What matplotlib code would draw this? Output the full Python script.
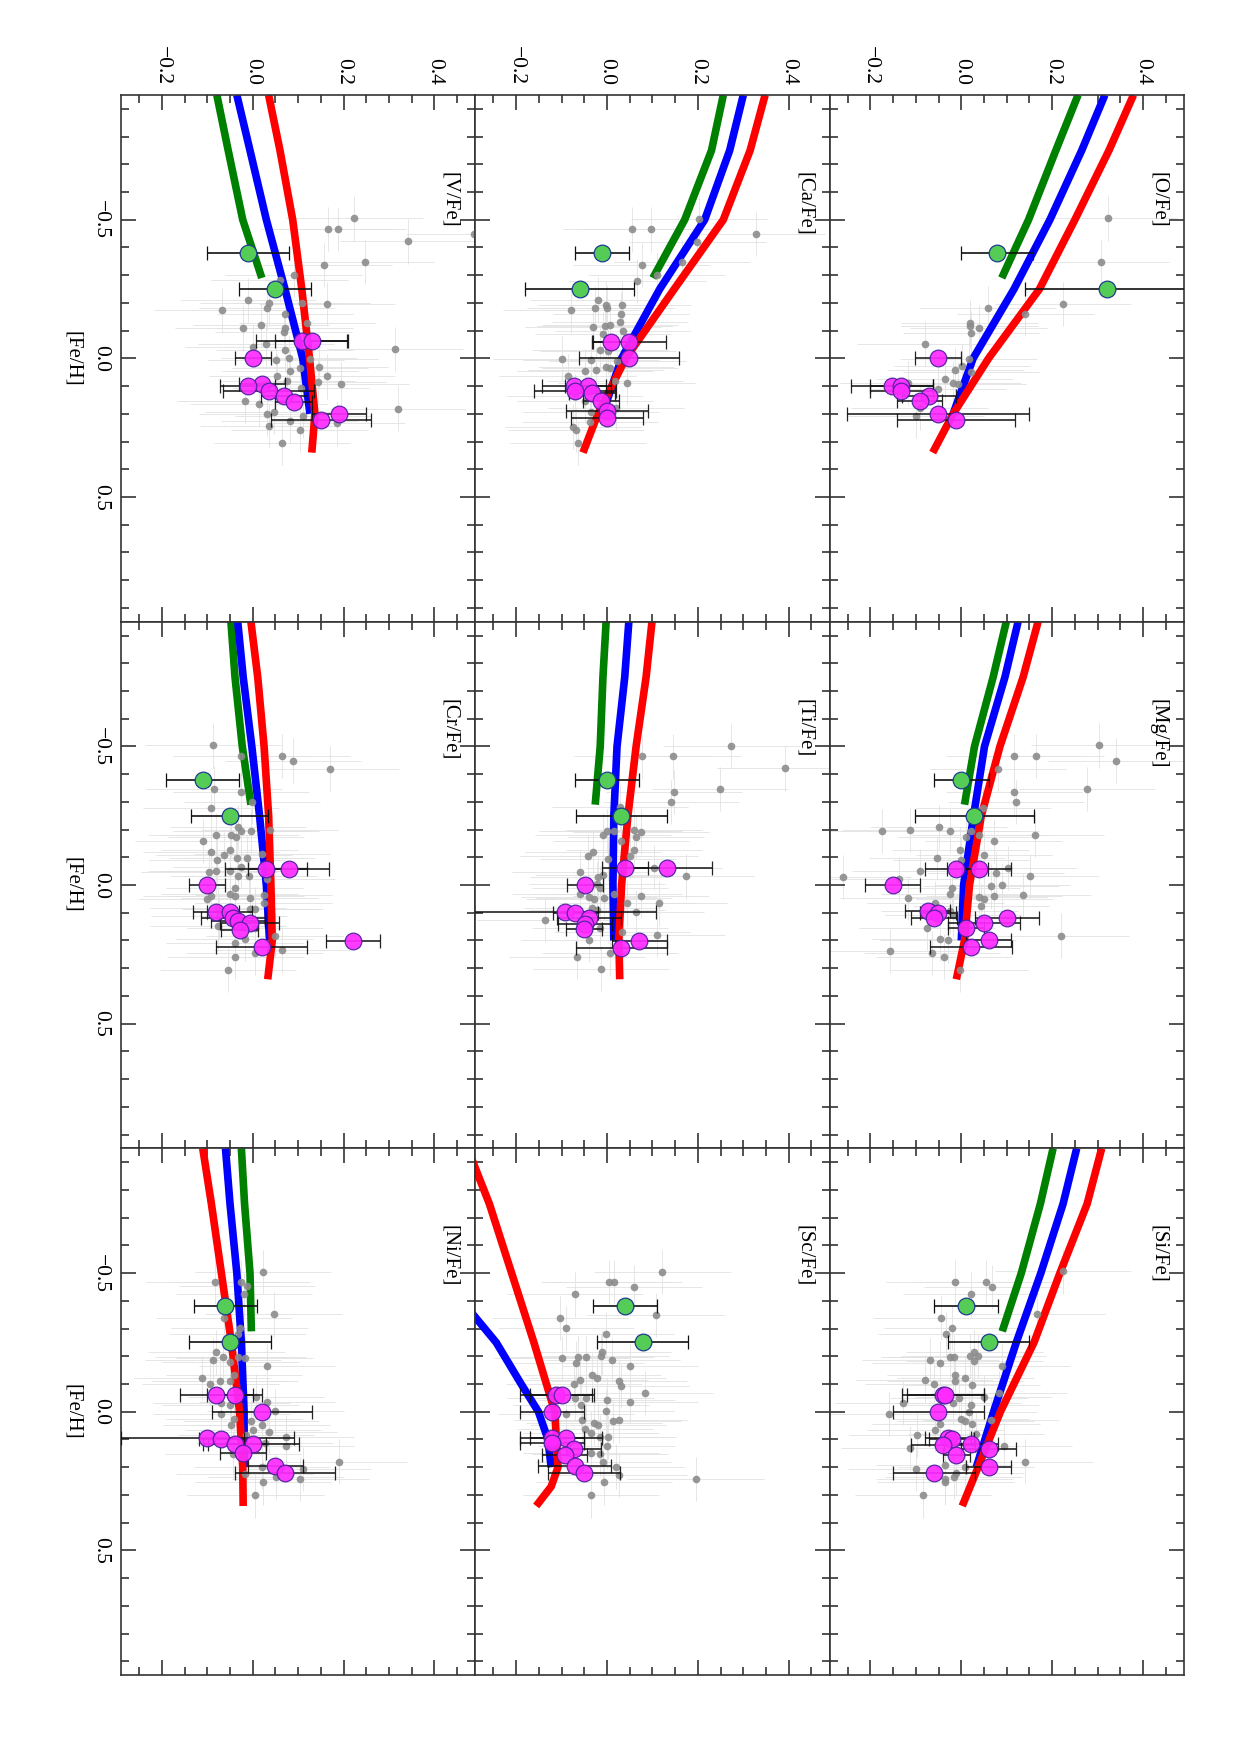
import matplotlib
matplotlib.use('Agg')
import matplotlib.pyplot as plt
from matplotlib.ticker import MultipleLocator, FuncFormatter

plt.rcParams['font.family'] = ['Liberation Serif', 'DejaVu Serif']

# ---- model curve knots ([Fe/H] positions shared by the panels) ----
G_FEH = [-0.95, -0.75, -0.5, -0.29]
B_FEH = [-0.95, -0.75, -0.5, -0.25, 0.0, 0.2]
R_FEH = [-0.95, -0.75, -0.5, -0.25, 0.0, 0.2, 0.34]
CL_FEH = [-0.38, -0.25]          # the two green (cluster) points

GRAY_XERR = 0.15
GRAY_FERR = 0.08

# ---------------- [O/Fe] ----------------
o_green = [0.257, 0.208, 0.148, 0.089]
o_blue = [0.316, 0.265, 0.195, 0.116, 0.026, -0.018]
o_red = [0.379, 0.325, 0.25, 0.172, 0.06, -0.018, -0.063]
o_gray_val = [0.324, 0.307, 0.224, 0.141, 0.059, 0.018, 0.018, 0.038, 0.021, -0.080, 0.016,
              0.002, -0.013, 0.021, -0.007, -0.018, -0.036, -0.051, -0.118, -0.100, -0.092]
o_gray_feh = [-0.505, -0.348, -0.195, -0.161, -0.182, -0.129, -0.117, -0.111, -0.092, -0.053, 0.001,
              0.028, 0.041, 0.049, 0.094, 0.088, 0.073, 0.110, 0.088, 0.208, 0.178]
o_star_feh = [0.0, 0.10, 0.098, 0.118, 0.136, 0.154, 0.199, 0.223]
o_star_val = [-0.051, -0.152, -0.132, -0.132, -0.071, -0.092, -0.051, -0.011]
o_star_err = [0.05, 0.09, 0.07, 0.07, 0.06, 0.05, 0.20, 0.13]
o_cl_val = [0.079, 0.32]
o_cl_err = [0.079, 0.18]

# ---------------- [Mg/Fe] ----------------
mg_green = [0.099, 0.07, 0.029, 0.007]
mg_blue = [0.125, 0.096, 0.051, 0.027, 0.005, 0.0]
mg_red = [0.169, 0.136, 0.085, 0.044, 0.018, 0.007, -0.011]
mg_gray_val = [0.304, 0.116, 0.165, 0.34, 0.081, 0.277, 0.116, 0.12, 0.048, -0.175, -0.113, -0.05,
               -0.024, 0.011, 0.022, 0.04, 0.163, 0.071, -0.002, 0.05, -0.053, 0.0, 0.103, 0.076,
               -0.09, -0.261, -0.138, 0.152, -0.02, -0.026, 0.066, 0.09, -0.118, 0.04, 0.051, 0.072,
               0.136, 0.044, -0.057, -0.026, -0.018, -0.076, -0.046, -0.029, 0.219, -0.157, -0.065,
               -0.038, -0.004]
mg_gray_feh = [-0.504, -0.465, -0.465, -0.449, -0.42, -0.347, -0.335, -0.3, -0.278, -0.194, -0.198,
               -0.21, -0.196, -0.172, -0.194, -0.18, -0.182, -0.16, -0.128, -0.11, -0.098, -0.089,
               -0.061, -0.043, -0.049, -0.029, -0.022, -0.031, 0.011, 0.031, 0.005, 0.001, 0.047,
               0.043, 0.049, 0.039, 0.035, 0.077, 0.065, 0.092, 0.107, 0.155, 0.195, 0.2, 0.182,
               0.237, 0.246, 0.258, 0.306]
mg_star_feh = [-0.058, -0.058, 0.0, 0.095, 0.10, 0.119, 0.119, 0.137, 0.155, 0.20, 0.224]
mg_star_val = [-0.011, 0.039, -0.151, -0.074, -0.051, -0.06, 0.10, 0.05, 0.01, 0.06, 0.021]
mg_star_err = [0.07, 0.07, 0.06, 0.05, 0.04, 0.05, 0.07, 0.08, 0.04, 0.05, 0.09]
mg_cl_val = [0.0, 0.029]
mg_cl_err = [0.06, 0.13]

# ---------------- [Si/Fe] ----------------
si_green = [0.202, 0.174, 0.132, 0.09]
si_blue = [0.254, 0.224, 0.175, 0.121, 0.071, 0.033]
si_red = [0.309, 0.277, 0.217, 0.16, 0.086, 0.037, 0.002]
si_gray_val = [0.224, -0.015, 0.055, 0.068, 0.021, 0.167, -0.044, -0.02, -0.033, 0.029, 0.018, 0.037,
               -0.026, -0.016, -0.068, -0.046, 0.029, 0.09, -0.013, 0.009, -0.081, -0.013, -0.061,
               0.024, 0.083, 0.049, -0.129, -0.006, -0.018, 0.022, 0.017, -0.16, 0.065, 0.0, 0.009,
               -0.046, 0.024, -0.057, -0.097, 0.033, 0.094, -0.114, 0.14, -0.037, -0.099, 0.009,
               -0.011, -0.017, -0.037, -0.035, -0.085]
si_gray_feh = [-0.506, -0.469, -0.469, -0.451, -0.423, -0.351, -0.339, -0.302, -0.281, -0.216, -0.2,
               -0.2, -0.196, -0.196, -0.186, -0.176, -0.182, -0.164, -0.131, -0.122, -0.113, -0.112,
               -0.101, -0.098, -0.067, -0.053, -0.031, -0.049, -0.031, -0.025, 0.001, 0.008, 0.031,
               0.027, 0.035, 0.043, 0.043, 0.065, 0.083, 0.081, 0.123, 0.131, 0.18, 0.192, 0.207,
               0.198, 0.222, 0.234, 0.243, 0.255, 0.302]
si_star_feh = [-0.061, -0.061, 0.0, 0.095, 0.10, 0.119, 0.117, 0.135, 0.155, 0.198, 0.222]
si_star_val = [-0.04, -0.035, -0.051, -0.029, -0.021, -0.04, 0.021, 0.06, -0.011, 0.06, -0.06]
si_star_err = [0.09, 0.085, 0.10, 0.05, 0.05, 0.07, 0.06, 0.06, 0.03, 0.05, 0.09]
si_cl_val = [0.01, 0.06]
si_cl_err = [0.07, 0.09]

# ---------------- [Ca/Fe] ----------------
ca_green = [0.256, 0.23, 0.171, 0.101]
ca_blue = [0.30, 0.27, 0.215, 0.116, 0.032, -0.01]
ca_red = [0.348, 0.315, 0.256, 0.148, 0.041, -0.02, -0.053]
ca_gray_val = [0.203, 0.054, 0.096, 0.329, 0.199, 0.076, 0.165, 0.109, 0.067, -0.02, -0.027, -0.002,
               0.0, 0.034, -0.079, 0.03, 0.028, -0.031, -0.004, 0.006, 0.035, -0.009, -0.016, 0.002,
               -0.1, -0.035, 0.023, -0.049, -0.025, -0.002, 0.006, -0.087, 0.017, 0.043, -0.071,
               -0.049, 0.019, -0.035, -0.038, -0.075, -0.068, -0.064]
ca_gray_feh = [-0.504, -0.465, -0.465, -0.449, -0.42, -0.336, -0.348, -0.3, -0.278, -0.212, -0.182,
               -0.194, -0.18, -0.194, -0.173, -0.161, -0.13, -0.112, -0.116, -0.122, -0.098, -0.089,
               -0.031, -0.025, 0.001, 0.005, 0.011, 0.047, 0.041, 0.031, 0.035, 0.065, 0.083, 0.089,
               0.137, 0.155, 0.18, 0.192, 0.228, 0.246, 0.258, 0.306]
ca_star_feh = [-0.058, -0.058, 0.0, 0.10, 0.099, 0.119, 0.125, 0.155, 0.19, 0.216]
ca_star_val = [0.008, 0.049, 0.049, -0.073, -0.042, -0.071, -0.033, -0.013, 0.0, 0.0]
ca_star_err = [0.04, 0.08, 0.11, 0.07, 0.05, 0.09, 0.05, 0.04, 0.09, 0.08]
ca_cl_val = [-0.011, -0.06]
ca_cl_err = [0.06, 0.12]

# ---------------- [Ti/Fe] ----------------
ti_green = [-0.002, -0.009, -0.015, -0.026]
ti_blue = [0.048, 0.039, 0.022, 0.015, 0.013, 0.015]
ti_red = [0.099, 0.086, 0.064, 0.046, 0.032, 0.026, 0.028]
ti_gray_val = [0.274, 0.077, 0.146, 0.392, 0.249, 0.147, 0.141, 0.029, -0.009, 0.0, 0.016, 0.059,
               0.074, 0.064, 0.031, -0.031, -0.042, 0.002, 0.05, 0.059, 0.103, -0.059, -0.02, -0.009,
               0.173, -0.022, -0.015, -0.06, -0.04, -0.029, -0.006, 0.015, 0.074, 0.044, 0.114,
               -0.033, -0.022, 0.064, -0.136, -0.015, 0.033, 0.11, -0.04, 0.006, -0.066, -0.013]
ti_gray_feh = [-0.501, -0.464, -0.464, -0.421, -0.347, -0.335, -0.299, -0.28, -0.179, -0.196, -0.196,
               -0.2, -0.193, -0.174, -0.16, -0.119, -0.103, -0.093, -0.103, -0.128, -0.063, -0.048,
               -0.028, -0.035, -0.031, -0.003, 0.01, 0.034, 0.043, 0.049, 0.046, 0.034, 0.039, 0.066,
               0.066, 0.081, 0.09, 0.097, 0.126, 0.156, 0.168, 0.18, 0.197, 0.246, 0.258, 0.304]
ti_star_feh = [-0.061, -0.061, 0.0, 0.098, 0.10, 0.12, 0.139, 0.159, 0.201, 0.227]
ti_star_val = [0.04, 0.131, -0.049, -0.092, -0.07, -0.04, -0.048, -0.051, 0.071, 0.031]
ti_star_err = [0.05, 0.10, 0.04, 0.20, 0.05, 0.07, 0.06, 0.04, 0.06, 0.10]
ti_cl_val = [0.0, 0.031]
ti_cl_err = [0.07, 0.10]

# ---------------- [Sc/Fe] (own curve knots) ----------------
sc_red_feh = [-0.95, -0.75, -0.5, -0.25, 0.0, 0.2, 0.27, 0.34]
sc_red = [-0.307, -0.259, -0.21, -0.161, -0.115, -0.108, -0.123, -0.156]
sc_blue_feh = [-0.45, -0.345, -0.25, -0.1, 0.0, 0.1, 0.2]
sc_blue = [-0.345, -0.292, -0.244, -0.189, -0.151, -0.13, -0.123]
sc_gray_val = [0.122, 0.004, 0.015, 0.059, -0.07, 0.107, -0.104, -0.091, -0.003, -0.01, -0.014, 0.01,
               -0.099, -0.064, -0.046, -0.068, 0.05, -0.032, -0.021, 0.026, 0.031, -0.073, -0.06,
               0.083, -0.071, -0.046, -0.001, 0.051, -0.058, -0.003, -0.09, -0.054, 0.013, 0.026,
               -0.029, -0.02, -0.049, -0.035, 0.002, -0.016, -0.001, -0.035, -0.016, -0.009, 0.019,
               0.026, 0.195, -0.007, -0.035]
sc_gray_feh = [-0.505, -0.467, -0.467, -0.451, -0.423, -0.348, -0.339, -0.302, -0.281, -0.214, -0.2,
               -0.186, -0.194, -0.198, -0.198, -0.176, -0.164, -0.131, -0.122, -0.112, -0.094, -0.101,
               -0.113, -0.067, -0.049, -0.049, -0.043, -0.035, -0.025, -0.001, 0.008, 0.029, 0.033,
               0.031, 0.041, 0.047, 0.063, 0.077, 0.092, 0.092, 0.125, 0.149, 0.152, 0.18, 0.198,
               0.228, 0.243, 0.255, 0.302]
sc_star_feh = [-0.061, -0.061, 0.0, 0.095, 0.095, 0.113, 0.134, 0.155, 0.195, 0.222]
sc_star_val = [-0.112, -0.099, -0.121, -0.121, -0.09, -0.121, -0.073, -0.093, -0.071, -0.051]
sc_star_err = [0.08, 0.07, 0.07, 0.07, 0.08, 0.07, 0.06, 0.05, 0.08, 0.08]
sc_cl_val = [0.039, 0.079]
sc_cl_err = [0.07, 0.10]

# ---------------- [V/Fe] ----------------
v_green = [-0.079, -0.054, -0.022, 0.02]
v_blue = [-0.035, -0.006, 0.03, 0.071, 0.11, 0.126]
v_red = [0.035, 0.06, 0.088, 0.108, 0.125, 0.137, 0.13]
v_gray_val = [0.224, 0.165, 0.187, 0.342, 0.156, 0.248, 0.09, 0.059, -0.01, -0.067, 0.035, 0.031,
              0.108, 0.163, 0.071, -0.022, 0.019, 0.07, 0.068, 0.119, 0.0, 0.029, 0.07, 0.313, 0.051,
              0.08, 0.126, 0.147, 0.104, 0.082, 0.053, 0.163, 0.075, 0.143, 0.194, 0.107, -0.017,
              0.013, 0.32, 0.031, 0.046, 0.11, 0.081, 0.185, 0.035, 0.103, 0.065, 0.487]
v_gray_feh = [-0.505, -0.466, -0.466, -0.422, -0.337, -0.348, -0.3, -0.282, -0.211, -0.173, -0.198,
              -0.183, -0.198, -0.195, -0.161, -0.108, -0.12, -0.111, -0.095, -0.129, -0.042, -0.051,
              -0.03, -0.033, 0.007, 0.0, 0.004, 0.031, 0.034, 0.046, 0.065, 0.065, 0.08, 0.086, 0.094,
              0.108, 0.154, 0.166, 0.181, 0.199, 0.194, 0.208, 0.227, 0.235, 0.245, 0.257, 0.305,
              -0.448]
v_star_feh = [-0.063, -0.063, 0.0, 0.094, 0.10, 0.116, 0.136, 0.157, 0.199, 0.223]
v_star_val = [0.108, 0.13, 0.0, 0.02, -0.011, 0.035, 0.069, 0.09, 0.19, 0.15]
v_star_err = [0.10, 0.08, 0.04, 0.05, 0.06, 0.10, 0.05, 0.04, 0.06, 0.11]
v_cl_val = [-0.01, 0.049]
v_cl_err = [0.09, 0.08]

# ---------------- [Cr/Fe] ----------------
cr_green = [-0.048, -0.039, -0.023, -0.004]
cr_blue = [-0.033, -0.021, -0.002, 0.015, 0.03, 0.037]
cr_red = [-0.004, 0.011, 0.025, 0.035, 0.04, 0.043, 0.033]
cr_gray_val = [-0.088, -0.026, 0.065, 0.088, 0.171, -0.085, -0.026, -0.002, -0.092, -0.032, -0.026,
               -0.004, 0.037, -0.081, -0.048, -0.037, -0.11, -0.051, -0.092, -0.063, 0.02, -0.035,
               -0.079, -0.013, -0.026, -0.096, -0.081, -0.051, -0.032, -0.009, 0.032, -0.04, -0.101,
               -0.092, -0.051, -0.038, 0.024, -0.007, 0.024, -0.077, -0.006, 0.004, -0.074, -0.077,
               0.005, 0.048, -0.018, -0.04, 0.064, 0.004, -0.038, -0.055]
cr_gray_feh = [-0.504, -0.465, -0.465, -0.449, -0.42, -0.348, -0.336, -0.3, -0.278, -0.21, -0.194,
               -0.196, -0.198, -0.18, -0.182, -0.172, -0.16, -0.128, -0.118, -0.11, -0.112, -0.098,
               -0.089, -0.098, -0.065, -0.046, -0.049, -0.049, -0.031, -0.031, -0.022, 0.011, 0.051,
               0.041, 0.031, 0.041, 0.035, 0.047, 0.065, 0.083, 0.086, 0.086, 0.113, 0.149, 0.155,
               0.182, 0.195, 0.21, 0.236, 0.246, 0.258, 0.306]
cr_star_feh = [-0.058, -0.058, 0.0, 0.099, 0.099, 0.119, 0.129, 0.137, 0.161, 0.201, 0.224]
cr_star_val = [0.029, 0.079, -0.101, -0.081, -0.051, -0.044, -0.032, -0.007, -0.029, 0.221, 0.02]
cr_star_err = [0.09, 0.09, 0.04, 0.05, 0.05, 0.07, 0.06, 0.065, 0.04, 0.06, 0.10]
cr_cl_val = [-0.11, -0.051]
cr_cl_err = [0.08, 0.085]

# ---------------- [Ni/Fe] ----------------
ni_green = [-0.025, -0.018, -0.006, -0.003]
ni_blue = [-0.06, -0.05, -0.035, -0.025, -0.019, -0.019]
ni_red = [-0.11, -0.091, -0.069, -0.047, -0.029, -0.022, -0.021]
ni_gray_val = [0.023, -0.084, -0.025, -0.012, -0.019, 0.046, -0.063, -0.029, -0.032, -0.08, -0.088,
               -0.065, -0.049, -0.032, -0.018, 0.032, -0.111, -0.093, -0.073, -0.051, -0.041, 0.008,
               0.032, -0.069, -0.049, 0.05, -0.069, -0.041, -0.004, 0.021, -0.047, 0.001, 0.036,
               -0.015, 0.074, 0.073, 0.026, -0.043, 0.19, 0.021, 0.111, -0.018, 0.052, 0.105, 0.023,
               0.006]
ni_gray_feh = [-0.505, -0.469, -0.469, -0.453, -0.423, -0.351, -0.339, -0.302, -0.281, -0.214, -0.186,
               -0.198, -0.18, -0.198, -0.194, -0.164, -0.122, -0.1, -0.112, -0.112, -0.131, -0.055,
               -0.035, -0.031, -0.025, -0.001, 0.008, 0.027, 0.035, 0.047, 0.047, 0.065, 0.073, 0.083,
               0.092, 0.125, 0.113, 0.152, 0.18, 0.198, 0.207, 0.224, 0.234, 0.243, 0.255, 0.302]
ni_star_feh = [-0.061, -0.061, 0.0, 0.095, 0.099, 0.117, 0.117, 0.149, 0.195, 0.222]
ni_star_val = [-0.08, -0.04, 0.021, -0.10, -0.069, -0.04, 0.001, -0.021, 0.05, 0.071]
ni_star_err = [0.08, 0.06, 0.11, 0.19, 0.05, 0.07, 0.10, 0.05, 0.06, 0.11]
ni_cl_val = [-0.06, -0.05]
ni_cl_err = [0.07, 0.09]

# page layout: rows top->bottom, columns left->right
layout = [
    [('[V/Fe]', v_gray_val, v_gray_feh, [(v_green, G_FEH), (v_blue, B_FEH), (v_red, R_FEH)],
      v_star_val, v_star_feh, v_star_err, v_cl_val, v_cl_err),
     ('[Ca/Fe]', ca_gray_val, ca_gray_feh, [(ca_green, G_FEH), (ca_blue, B_FEH), (ca_red, R_FEH)],
      ca_star_val, ca_star_feh, ca_star_err, ca_cl_val, ca_cl_err),
     ('[O/Fe]', o_gray_val, o_gray_feh, [(o_green, G_FEH), (o_blue, B_FEH), (o_red, R_FEH)],
      o_star_val, o_star_feh, o_star_err, o_cl_val, o_cl_err)],
    [('[Cr/Fe]', cr_gray_val, cr_gray_feh, [(cr_green, G_FEH), (cr_blue, B_FEH), (cr_red, R_FEH)],
      cr_star_val, cr_star_feh, cr_star_err, cr_cl_val, cr_cl_err),
     ('[Ti/Fe]', ti_gray_val, ti_gray_feh, [(ti_green, G_FEH), (ti_blue, B_FEH), (ti_red, R_FEH)],
      ti_star_val, ti_star_feh, ti_star_err, ti_cl_val, ti_cl_err),
     ('[Mg/Fe]', mg_gray_val, mg_gray_feh, [(mg_green, G_FEH), (mg_blue, B_FEH), (mg_red, R_FEH)],
      mg_star_val, mg_star_feh, mg_star_err, mg_cl_val, mg_cl_err)],
    [('[Ni/Fe]', ni_gray_val, ni_gray_feh, [(ni_green, G_FEH), (ni_blue, B_FEH), (ni_red, R_FEH)],
      ni_star_val, ni_star_feh, ni_star_err, ni_cl_val, ni_cl_err),
     ('[Sc/Fe]', sc_gray_val, sc_gray_feh, [(None, None), (sc_blue, sc_blue_feh), (sc_red, sc_red_feh)],
      sc_star_val, sc_star_feh, sc_star_err, sc_cl_val, sc_cl_err),
     ('[Si/Fe]', si_gray_val, si_gray_feh, [(si_green, G_FEH), (si_blue, B_FEH), (si_red, R_FEH)],
      si_star_val, si_star_feh, si_star_err, si_cl_val, si_cl_err)],
]

curve_colors = ['#008000', '#0000ff', '#ff0000']


def fmt(v, pos):
    if abs(v) < 1e-9:
        v = 0.0
    return ('%.1f' % v).replace('-', '\u2212')


W, H = 1240.0, 1755.0
x0, y0 = 121.0, 95.0
pw, ph = 354.3, 526.7

fig = plt.figure(figsize=(12.4, 17.55), dpi=100)

for r, row in enumerate(layout):
    for c, panel in enumerate(row):
        name, gv, gf, curves, sv, sf, se, cv, ce = panel
        ax = fig.add_axes([(x0 + c * pw) / W, 1 - (y0 + (r + 1) * ph) / H, pw / W, ph / H])

        # field stars
        ax.errorbar(gv, gf, xerr=GRAY_XERR, yerr=GRAY_FERR, fmt='none',
                    ecolor='#e2e2e2', elinewidth=0.6, zorder=1)
        # models
        for (vals, fehs), col in zip(curves, curve_colors):
            if vals is None:
                continue
            ax.plot(vals, fehs, color=col, lw=5.5, solid_capstyle='butt', zorder=2)
        ax.plot(gv, gf, 'o', ms=5.5, color='#8c8c8c', mec='none', alpha=0.9, zorder=3)
        # cluster (green) and programme stars (magenta)
        ax.errorbar(cv, CL_FEH, xerr=ce, fmt='o', ms=12, mfc='#55cc55', mec='#1c3c90', mew=0.9,
                    ecolor='#111111', elinewidth=1.2, capsize=5, capthick=1.2, zorder=4)
        ax.errorbar(sv, sf, xerr=se, fmt='o', ms=12, mfc='#ff2aff', mec='#4a20a0', mew=0.9,
                    ecolor='#111111', elinewidth=1.2, capsize=5, capthick=1.2, alpha=0.92, zorder=5)

        ax.text(0.928, 0.854, name, rotation=-90, ha='center', va='top',
                transform=ax.transAxes, fontsize=15)

        ax.set_xlim(-0.29, 0.49)
        ax.set_ylim(0.95, -0.95)
        ax.xaxis.set_major_locator(MultipleLocator(0.2))
        ax.xaxis.set_minor_locator(MultipleLocator(0.05))
        ax.yaxis.set_major_locator(MultipleLocator(0.5))
        ax.yaxis.set_minor_locator(MultipleLocator(0.1))
        ax.xaxis.set_major_formatter(FuncFormatter(fmt))
        ax.yaxis.set_major_formatter(FuncFormatter(fmt))
        ax.tick_params(which='both', direction='in', top=True, bottom=True, left=True, right=True,
                       color='#222222', width=1.1, labelbottom=False, labeltop=False,
                       labelleft=False, labelright=False)
        ax.tick_params(which='major', length=11)
        ax.tick_params(which='minor', length=6)
        for sp in ax.spines.values():
            sp.set_linewidth(1.2)
            sp.set_color('#333333')

        if r == 0:
            ax.tick_params(axis='x', labeltop=True, labelrotation=-90, labelsize=15.5, pad=7)
        if c == 0:
            ax.tick_params(axis='y', labelleft=True, labelrotation=-90, labelsize=15.5, pad=8)
            for lbl in ax.get_yticklabels():
                lbl.set_va('center')
            ax.text(-0.138, 0.5, '[Fe/H]', rotation=-90, ha='center', va='center',
                    transform=ax.transAxes, fontsize=15)

fig.savefig('out.png', dpi=100)
